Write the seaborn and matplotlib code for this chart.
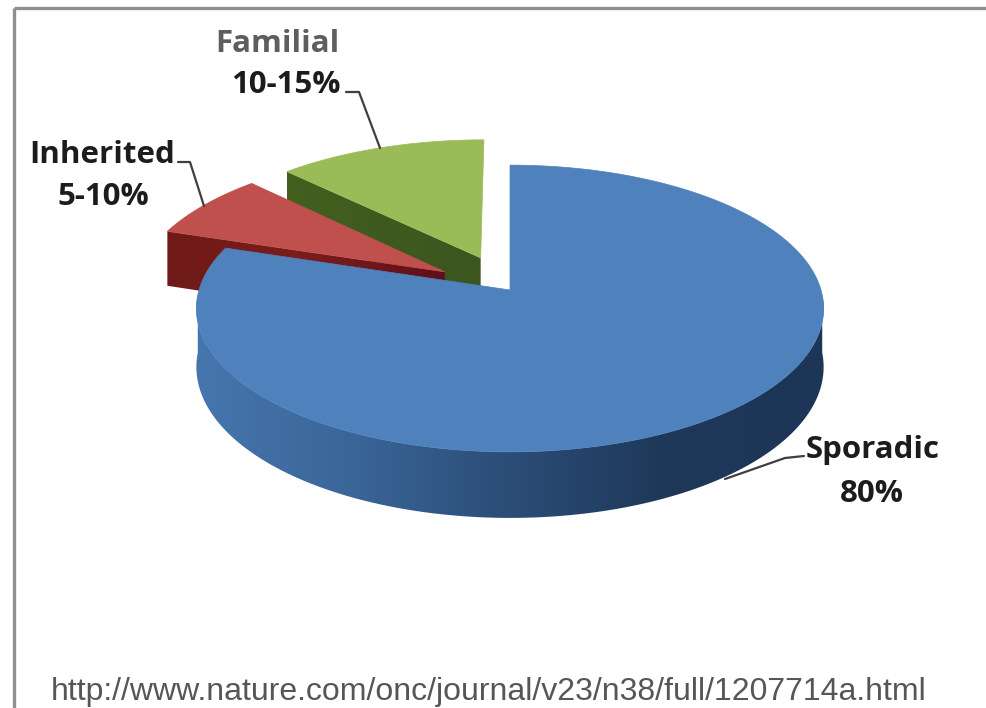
import numpy as np
import matplotlib
matplotlib.use("Agg")
import matplotlib.pyplot as plt
from matplotlib.patches import Polygon
import seaborn as sns

# Shares of cases (midpoint of each stated range)
categories = ["Sporadic", "Inherited", "Familial"]
shares = [80.0, 7.5, 12.5]
range_labels = ["80%", "5-10%", "10-15%"]
source_url = "http://www.nature.com/onc/journal/v23/n38/full/1207714a.html"

top_colors = ["#4f81bd", "#c0504d", "#9bbb59"]
side_colors = [["#4676ae", "#3a6598", "#2b4d76", "#1f3859", "#1d3657"],
               ["#6f1a18", "#7a1d1b", "#5e0f1c"],
               ["#44601f", "#3f5a1e", "#3d5520"]]
explode = [0.0, 0.25, 0.254]

# Projection of the tilted disc onto the canvas (canvas pixels, y downwards)
CX, CY = 510.0, 290.0
RX, RY = 311.0, 141.0
PERSPECTIVE = 0.129
DEPTH = 57.5


def project(u, v):
    s = 1.0 / (1.0 + PERSPECTIVE * v)
    return CX + RX * u * s, CY - RY * v * s, DEPTH * s


def wedge_outline(start, stop, off):
    """Apex and rim of a slice; angles run clockwise from twelve o'clock."""
    mid = np.radians((start + stop) / 2)
    u0, v0 = off * np.sin(mid), off * np.cos(mid)
    th = np.radians(np.linspace(start, stop, 240))
    return project(u0, v0), project(u0 + np.sin(th), v0 + np.cos(th))


def shaded_wall(ax, xs, ys, depths, colors, zorder):
    """Fill the band below a top edge with a smooth left-to-right ramp."""
    cmap = sns.blend_palette(colors, as_cmap=True)
    outline = np.c_[np.r_[xs, xs[::-1]], np.r_[ys, (ys + depths)[::-1]]]
    patch = Polygon(outline, closed=True, transform=ax.transData, facecolor="none", edgecolor="none")
    ax.add_patch(patch)
    extent = (xs.min(), xs.max(), (ys + depths).max(), ys.min())
    image = ax.imshow(np.linspace(0, 1, 256)[None, :], cmap=cmap, extent=extent, aspect="auto",
                      interpolation="bilinear", zorder=zorder)
    image.set_clip_path(patch)


sns.set_theme(style="white")
fig, ax = plt.subplots(figsize=(9.87, 7.08), dpi=100)
ax.set_position([0, 0, 1, 1])

stops = np.cumsum([0.0] + shares) * 3.6
geometry = [wedge_outline(stops[i], stops[i + 1], explode[i]) for i in range(3)]

# Slices are painted back to front: familial, inherited, sporadic
for i in [2, 1]:
    (xa, ya, da), (xr, yr, dr) = geometry[i]
    shaded_wall(ax, np.array([xr[0], xa]), np.array([yr[0], ya]), np.array([dr[0], da]),
                side_colors[i], 2 + (2 - i) * 2)
    ax.fill(np.r_[xa, xr], np.r_[ya, yr], color=top_colors[i], lw=0.5, zorder=3 + (2 - i) * 2)

# Sporadic slice: rim wall, then its top
th = np.radians(np.linspace(92, 268, 360))
x_rim, y_rim, d_rim = project(np.sin(th), np.cos(th))
shaded_wall(ax, x_rim[::-1], y_rim[::-1], d_rim[::-1], side_colors[0], 8)
apex, rim = geometry[0]
ax.fill(np.r_[apex[0], rim[0]], np.r_[apex[1], rim[1]], color=top_colors[0], lw=0.5, zorder=9)

ax.set_xlim(0, 987)
ax.set_ylim(708, 0)
ax.axis("off")

# Frame along the top and left of the panel
frame = dict(color="#8f8f8f", lw=2.4, solid_capstyle="butt", zorder=1)
ax.plot([14, 987], [8, 8], **frame)
ax.plot([14, 14], [8, 708], **frame)

# Callout labels with their leader lines
label_font = dict(family="Open Sans", fontweight="bold", fontsize=22.5, ha="center", va="center", zorder=12)
ax.text(277, 44, categories[2], color="#5e5e5e", **label_font)
ax.text(286, 85, range_labels[2], color="#1c1c1c", **label_font)
ax.text(102, 155, categories[1], color="#1c1c1c", **label_font)
ax.text(103, 197, range_labels[1], color="#1c1c1c", **label_font)
ax.text(873, 450, categories[0], color="#1c1c1c", **label_font)
ax.text(872, 494, range_labels[0], color="#1c1c1c", **label_font)

leader = dict(color="#3f3f3f", lw=1.6, zorder=11)
ax.plot([346, 359, 380], [92, 92, 148], **leader)
ax.plot([178, 190, 204], [162, 162, 206], **leader)
ax.plot([804, 785, 725], [456, 458, 479], **leader)

ax.text(489, 692, source_url, family="Liberation Sans", fontsize=23, color="#55565a",
        ha="center", va="center", zorder=12)

fig.savefig("out.png", dpi=100, facecolor="white")
